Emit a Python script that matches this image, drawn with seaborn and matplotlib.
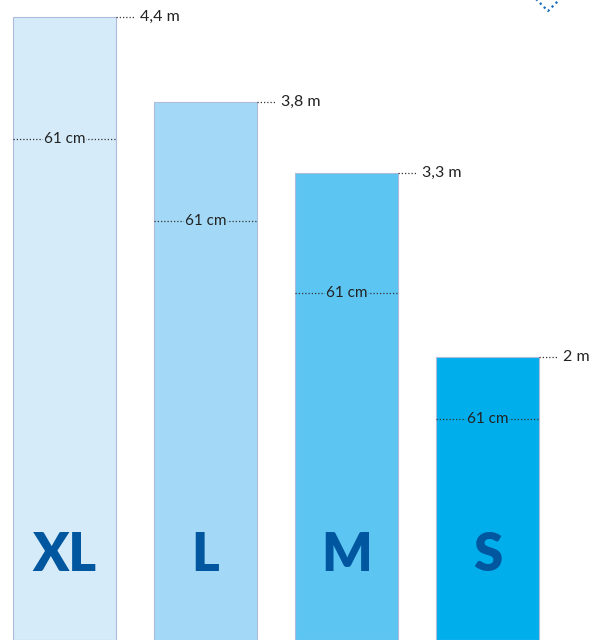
import matplotlib
matplotlib.use("Agg")
import matplotlib.pyplot as plt
import seaborn as sns

# data
sizes = ["XL", "L", "M", "S"]
heights = [4.4, 3.8, 3.3, 2.0]
height_labels = ["4,4 m", "3,8 m", "3,3 m", "2 m"]
width_label = "61 cm"
colors = ["#D5EBFA", "#A3D9F6", "#5CC5F2", "#00AEEB"]

# layout (data units)
bar_w = 0.73
width_mark_y = [3.54, 2.96, 2.45, 1.56]
letter_y = 0.6

sns.set_theme(style="white")
plt.rcParams["font.family"] = ["Lato", "DejaVu Sans"]

fig = plt.figure(figsize=(5.99, 6.40), dpi=100)
ax = fig.add_axes([0, 0, 1, 1])

sns.barplot(x=sizes, y=heights, hue=sizes, palette=colors, legend=False,
            saturation=1, width=bar_w, edgecolor="#AEBBDD", linewidth=0.8, ax=ax)

dots = (0, (1, 1.6))
for i, (h, lab, c, my) in enumerate(zip(heights, height_labels, colors, width_mark_y)):
    right = i + bar_w / 2
    # height callout
    ax.plot([right, right + 0.13], [h, h], ls=dots, color="#333333", lw=0.9)
    ax.text(right + 0.17, h, lab, va="center", ha="left", fontsize=11.5, color="#222222")
    # width marker
    ax.plot([i - bar_w / 2, i + bar_w / 2], [my, my], ls=dots, color="#333333", lw=0.9)
    ax.text(i, my, width_label, va="center", ha="center", fontsize=11, color="#222222",
            bbox=dict(fc=c, ec="none", pad=0.3))
    # size letter
    ax.text(i, letter_y, sizes[i], va="center", ha="center", fontsize=38,
            fontweight="heavy", color="#00579F")

ax.set_xlim(-0.457, 3.791)
ax.set_ylim(0, 4.518)
ax.axis("off")

# decorative dotted diamond in top-right corner
dx = [527 / 599, 548 / 599, 569 / 599, 548 / 599, 527 / 599]
dy = [1 + 10 / 640, 1 - 11 / 640, 1 + 10 / 640, 1 + 31 / 640, 1 + 10 / 640]
ax.plot(dx, dy, transform=fig.transFigure, ls=(0, (1, 1.5)), lw=1.6,
        color="#1A6DBF", clip_on=False)

fig.savefig("out.png", dpi=100)
